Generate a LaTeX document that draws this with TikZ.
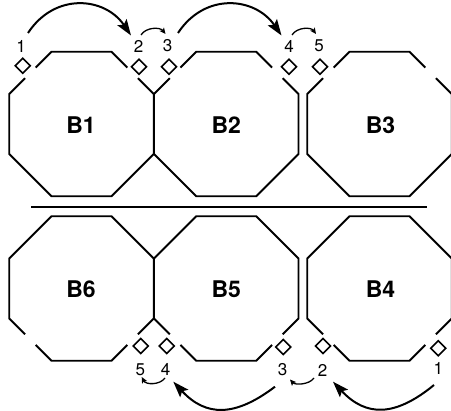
\documentclass[tikz,border=0pt]{standalone}
\usepackage{fontspec}
\setmainfont{TeX Gyre Heros}
\usetikzlibrary{arrows.meta,calc}
\newcommand\octgap[3]{%
  \begin{scope}[shift={(#1,#2)},yscale=#3]
    \draw[oct] (-45.8,-56.4) -- (-30,-72.25) -- (30,-72.25) -- (45.8,-56.4);
    \draw[oct] (56.4,-45.8) -- (72.25,-30) -- (72.25,30) -- (30,72.25) -- (-30,72.25)
      -- (-72.25,30) -- (-72.25,-30) -- (-56.4,-45.8);
  \end{scope}}
\begin{document}
\begin{tikzpicture}[x=1pt,y=-1pt,
  oct/.style={line width=1.9pt},
  port/.style={rectangle,rotate=45,draw,line width=1.6pt,minimum size=10.6pt,inner sep=0pt},
  num/.style={inner sep=1pt,font=\fontsize{17}{17}\selectfont},
  blk/.style={inner sep=0pt,font=\fontsize{23}{23}\selectfont\bfseries},
  bigarr/.style={line width=2pt,-{Stealth[length=16pt,width=11pt,inset=3pt]}},
  smallarr/.style={line width=1.3pt,-{Stealth[length=6pt,width=5.5pt,inset=1.2pt]}},
  divline/.style={line width=1.9pt}]
\fill[white] (0,0) rectangle (451,411);
\useasboundingbox (0,0) rectangle (451,411);

% octagons
\octgap{81.5}{124}{1}
\octgap{226.25}{124}{1}
\octgap{379.5}{124}{1}
\octgap{81.5}{288.5}{-1}
\octgap{226.25}{288.5}{-1}
\octgap{379.5}{288.5}{-1}

% block names
\node[blk] (B1) at (81,124.8) {B1};
\node[blk] (B2) at (226.25,124.8) {B2};
\node[blk] (B3) at (380.5,124.8) {B3};
\node[blk] (B6) at (81,289) {B6};
\node[blk] (B5) at (226.25,289) {B5};
\node[blk] (B4) at (380.5,289) {B4};

% separator
\coordinate (s1) at (31,207);
\coordinate (s2) at (427,207);
\draw[divline] (s1) -- (s2);

% ports top
\node[port] (p1) at (22.7,65.7) {};
\node[port] (p2) at (139,66.7) {};
\node[port] (p3) at (169,66.7) {};
\node[port] (p4) at (289,66.7) {};
\node[port] (p5) at (320,66.7) {};
% ports bottom
\node[port] (q5) at (140.7,346) {};
\node[port] (q4) at (166.7,346) {};
\node[port] (q3) at (283.3,347) {};
\node[port] (q2) at (323,346) {};
\node[port] (q1) at (438.3,348.3) {};

% numbers top
\node[num] (l1) at (21,46) {1};
\node[num] (l2) at (138.7,46) {2};
\node[num] (l3) at (167.7,46) {3};
\node[num] (l4) at (289,46) {4};
\node[num] (l5) at (319,46) {5};
% numbers bottom
\node[num] (b5) at (140.3,369.5) {5};
\node[num] (b4) at (165.7,369.5) {4};
\node[num] (b3) at (282.7,370) {3};
\node[num] (b2) at (322.7,370) {2};
\node[num] (b1) at (438.3,368.5) {1};

% arrows top
\draw[bigarr] ($(l1)+(7,-13)$) .. controls (55,-8) and (105,-3) .. ($(l2)+(-7.7,-10.5)$);
\draw[bigarr] ($(l3)+(10.3,-13)$) .. controls (205,-8) and (255,-3) .. ($(l4)+(-7.5,-10.5)$);
\draw[smallarr] ($(l2)+(2.3,-11)$) .. controls (146,27) and (160,27) .. ($(l3)+(-2.2,-12)$);
\draw[smallarr] ($(l4)+(3,-11)$) .. controls (297,27) and (311,27) .. ($(l5)+(-3,-12)$);
% arrows bottom
\draw[bigarr] ($(b1)+(-4.3,16.5)$) .. controls (395,417) and (366,417) .. ($(b2)+(10.3,11.7)$);
\draw[bigarr] ($(b3)+(-7.7,16.7)$) .. controls (235,417) and (206,417) .. ($(b4)+(7.6,12.2)$);
\draw[smallarr] ($(b2)+(-8.7,8)$) .. controls (309,385) and (295,385) .. ($(b3)+(7.3,9.5)$);
\draw[smallarr] ($(b4)+(-0.7,8.5)$) .. controls (160,385) and (146,385) .. ($(b5)+(1.4,7.5)$);
\end{tikzpicture}
\end{document}
